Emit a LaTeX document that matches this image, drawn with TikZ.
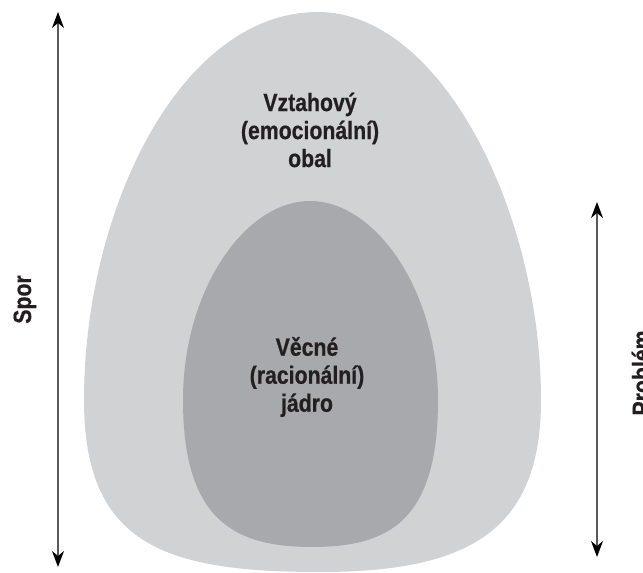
\documentclass[tikz,border=0pt]{standalone}
\usepackage{fontspec}
\usetikzlibrary{arrows.meta}
\newfontfamily\condfont{Liberation Sans Bold}[FakeStretch=0.85, FakeBold=0.6]
\definecolor{shellgray}{HTML}{D1D2D4}
\definecolor{coregray}{HTML}{A7A9AC}
\definecolor{inkdark}{HTML}{231F20}
\definecolor{shaftgray}{HTML}{58595B}
\tikzset{
  label text/.style={font=\condfont\fontsize{25}{28}\selectfont, text=inkdark, inner sep=0pt, align=center},
  side label/.style={font=\condfont\fontsize{25}{28}\selectfont, text=inkdark, inner sep=0pt, rotate=90, anchor=base},
  span arrow/.style={draw=shaftgray, line width=1.3pt,
    {Stealth[length=16pt,width=12pt,inset=5pt,color=black]}-{Stealth[length=16pt,width=12pt,inset=5pt,color=black]}}
}
\begin{document}
\begin{tikzpicture}[x=1pt,y=1pt]
\useasboundingbox (0,0) rectangle (643,573);
% outer shell
\fill[shellgray] (318,561) .. controls (180,561) and (84,363) .. (84,173)
  .. controls (84,28) and (165,1) .. (320,1)
  .. controls (470,1) and (541,43) .. (541,173)
  .. controls (541,363) and (440,561) .. (318,561) -- cycle;
% inner core
\fill[coregray] (310,372) .. controls (245,372) and (183,283) .. (183,173)
  .. controls (183,53) and (234,26) .. (312,26)
  .. controls (390,26) and (438,53) .. (438,173)
  .. controls (438,283) and (375,372) .. (310,372) -- cycle;
% texts
\node[label text] (shell) at (310,443) {Vztahový\\(emocionální)\\obal};
\node[label text] (core) at (307,196) {Věcné\\(racionální)\\jádro};
\node[side label] (spor) at (31,273.5) {Spor};
\node[side label] (problem) at (650,200) {Problém};
% span arrows
\coordinate (sporTop) at (58,561);
\coordinate (sporBottom) at (58,6);
\coordinate (problemTop) at (597,371);
\coordinate (problemBottom) at (597,16);
\draw[span arrow] (sporBottom) -- (sporTop);
\draw[span arrow] (problemBottom) -- (problemTop);
\end{tikzpicture}
\end{document}
